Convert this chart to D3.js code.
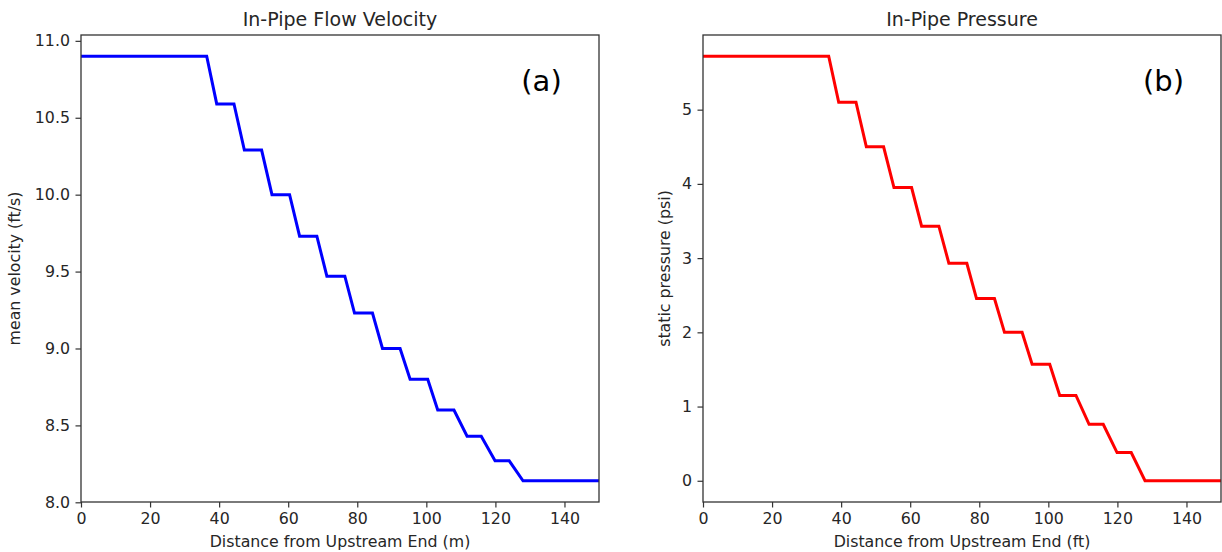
<!DOCTYPE html>
<html>
<head>
<meta charset="utf-8">
<script src="https://cdn.jsdelivr.net/npm/d3@7"></script>
<style>
  html, body { margin: 0; padding: 0; background: #fff; }
  svg { display: block; }
  text { font-family: "DejaVu Sans", sans-serif; fill: #262626; }
</style>
</head>
<body>
<svg id="chart" width="1222" height="552"></svg>
<script>
// Breakpoint distances (shared by both panels)
const distance = [0, 36.4, 39.3, 44.3, 47.3, 52.3, 55.3, 60.4, 63.3, 68.3, 71.2, 76.4, 79.2,
  84.4, 87.3, 92.4, 95.3, 100.4, 103.3, 108.0, 111.8, 115.9, 119.9, 124.0, 128.0, 150];
// Mean velocity (ft/s) at each breakpoint
const velocity = [10.9, 10.9, 10.59, 10.59, 10.29, 10.29, 10.0, 10.0, 9.73, 9.73, 9.47, 9.47, 9.23,
  9.23, 9.0, 9.0, 8.80, 8.80, 8.60, 8.60, 8.43, 8.43, 8.27, 8.27, 8.14, 8.14];
// Static pressure (psi) at each breakpoint
const pressure = [5.72, 5.72, 5.10, 5.10, 4.50, 4.50, 3.95, 3.95, 3.43, 3.43, 2.93, 2.93, 2.455,
  2.455, 2.0, 2.0, 1.57, 1.57, 1.15, 1.15, 0.76, 0.76, 0.38, 0.38, 0.0, 0.0];

const xTicks = [0, 20, 40, 60, 80, 100, 120, 140];
const velTicks = [8.0, 8.5, 9.0, 9.5, 10.0, 10.5, 11.0];
const presTicks = [0, 1, 2, 3, 4, 5];

const panels = [
  { left: 81, right: 599, title: "In-Pipe Flow Velocity", ylabel: "mean velocity (ft/s)",
    xlabel: "Distance from Upstream End (m)", values: velocity, ticks: velTicks,
    fmt: d3.format(".1f"), color: "#0000ff", tag: "(a)", ylabX: 20, id: "ca" },
  { left: 703, right: 1221, title: "In-Pipe Pressure", ylabel: "static pressure (psi)",
    xlabel: "Distance from Upstream End (ft)", values: pressure, ticks: presTicks,
    fmt: d3.format("d"), color: "#ff0000", tag: "(b)", ylabX: 670, id: "cb" }
];

const plotTop = 35, plotBottom = 502;
const svg = d3.select("#chart");

panels.forEach(p => {
  const x = d3.scaleLinear().domain([0, 150]).range([p.left, p.right]);
  const [mn, mx] = d3.extent(p.values);
  const pad = (mx - mn) * 0.05;
  const y = d3.scaleLinear().domain([mn - pad, mx + pad]).range([plotBottom, plotTop]);

  const g = svg.append("g");

  const line = d3.line().x((d, i) => x(distance[i])).y(d => y(d));
  g.append("defs").append("clipPath").attr("id", p.id)
    .append("rect").attr("x", p.left).attr("y", plotTop).attr("width", p.right - p.left).attr("height", plotBottom - plotTop);
  g.append("path").datum(p.values)
    .attr("clip-path", `url(#${p.id})`)
    .attr("d", line).attr("fill", "none").attr("stroke", p.color)
    .attr("stroke-width", 3).attr("stroke-linejoin", "miter");

  const xAxis = g.append("g").attr("transform", `translate(0,${plotBottom})`)
    .call(d3.axisBottom(x).tickValues(xTicks).tickSize(5.5).tickPadding(5.5).tickFormat(d3.format("d")));
  const yAxis = g.append("g").attr("transform", `translate(${p.left},0)`)
    .call(d3.axisLeft(y).tickValues(p.ticks).tickSize(5.5).tickPadding(5.5).tickFormat(p.fmt));
  [xAxis, yAxis].forEach(a => {
    a.select(".domain").remove();
    a.selectAll("line").attr("stroke", "#333").attr("stroke-width", 1.2);
    a.selectAll("text").attr("font-size", 15.8).attr("fill", "#262626")
      .attr("font-family", "DejaVu Sans, sans-serif");
  });

  g.append("rect").attr("x", p.left).attr("y", plotTop)
    .attr("width", p.right - p.left).attr("height", plotBottom - plotTop)
    .attr("fill", "none").attr("stroke", "#333").attr("stroke-width", 1.3);

  const cx = (p.left + p.right) / 2;
  g.append("text").attr("x", cx).attr("y", 26).attr("text-anchor", "middle")
    .attr("font-size", 19).text(p.title);
  g.append("text").attr("x", cx).attr("y", 547).attr("text-anchor", "middle")
    .attr("font-size", 15.8).text(p.xlabel);
  g.append("text").attr("transform", `translate(${p.ylabX},${(plotTop + plotBottom) / 2}) rotate(-90)`)
    .attr("text-anchor", "middle").attr("font-size", 15.8).text(p.ylabel);
  g.append("text").attr("x", p.right - 57.5).attr("y", 91).attr("text-anchor", "middle")
    .attr("font-family", "'Liberation Sans', Arial, sans-serif")
    .attr("font-size", 29).style("fill", "#000").text(p.tag);
});
</script>
</body>
</html>
